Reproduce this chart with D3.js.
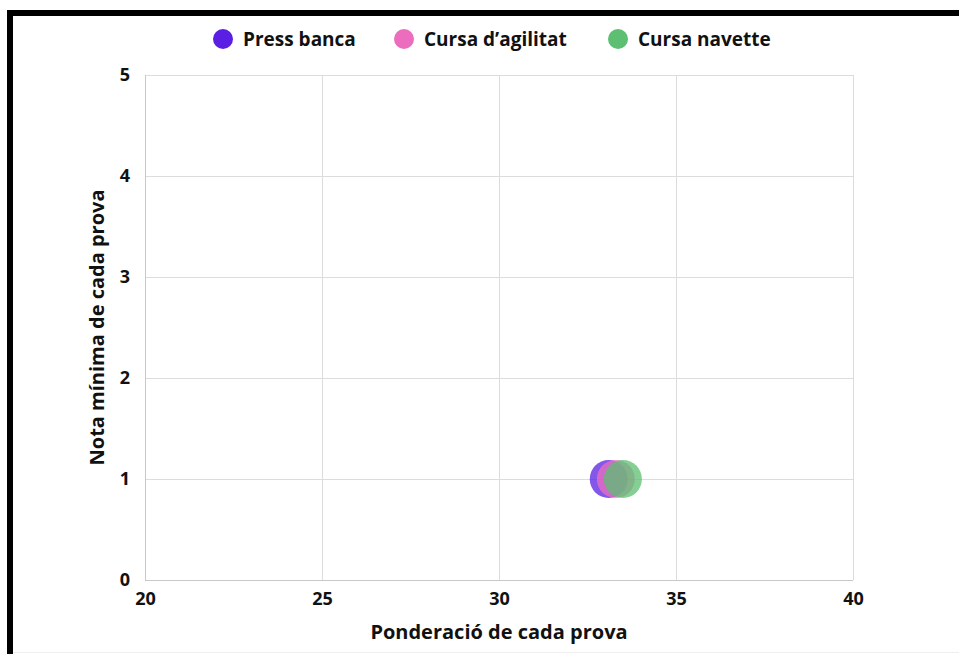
<!DOCTYPE html>
<html>
<head>
<meta charset="utf-8">
<script src="https://cdn.jsdelivr.net/npm/d3@7"></script>
<style>
  body { margin: 0; background: #fff; }
  text { font-family: "Open Sans", "Noto Sans", sans-serif; font-weight: 700; fill: #111; }
</style>
</head>
<body>
<div id="chart"></div>
<script>
// Data
var series = ["Press banca", "Cursa d\u2019agilitat", "Cursa navette"];
var ponderacio = [33.1, 33.3, 33.5];
var notaMinima = [1, 1, 1];
var colors = ["#5a1fe3", "#ec6dbe", "#5cbf72"];
var xTicks = [20, 25, 30, 35, 40];
var yTicks = [0, 1, 2, 3, 4, 5];

var svgWidth = 959;
var svgHeight = 654;

var margin = { top: 75, right: 106, bottom: 74, left: 145 };
var chartWidth = svgWidth - margin.left - margin.right;
var chartHeight = svgHeight - margin.top - margin.bottom;

var svg = d3.select("#chart")
  .append("svg")
  .attr("width", svgWidth)
  .attr("height", svgHeight);

// frame
svg.append("rect").attr("x", 7).attr("y", 10).attr("width", svgWidth - 7).attr("height", 6).attr("fill", "#000");
svg.append("rect").attr("x", 7).attr("y", 10).attr("width", 6).attr("height", svgHeight - 10).attr("fill", "#000");
svg.append("line").attr("x1", 13).attr("x2", svgWidth).attr("y1", 652.5).attr("y2", 652.5)
  .attr("stroke", "#eee");

var chartGroup = svg.append("g")
  .attr("transform", `translate(${margin.left}, ${margin.top})`);

var xScale = d3.scaleLinear().domain([20, 40]).range([0, chartWidth]);
var yScale = d3.scaleLinear().domain([0, 5]).range([chartHeight, 0]);

// grid
chartGroup.selectAll(".xgrid")
  .data(xTicks)
  .enter()
  .append("line")
  .attr("x1", d => Math.round(xScale(d)) + 0.5)
  .attr("x2", d => Math.round(xScale(d)) + 0.5)
  .attr("y1", 0)
  .attr("y2", chartHeight)
  .attr("stroke", "#dcdcdc");

chartGroup.selectAll(".ygrid")
  .data(yTicks)
  .enter()
  .append("line")
  .attr("x1", 0)
  .attr("x2", chartWidth)
  .attr("y1", d => Math.round(yScale(d)) + 0.5)
  .attr("y2", d => Math.round(yScale(d)) + 0.5)
  .attr("stroke", "#dcdcdc");

// axis lines
chartGroup.append("line").attr("x1", 0.5).attr("x2", 0.5).attr("y1", 0).attr("y2", chartHeight).attr("stroke", "#c8c8c8");
chartGroup.append("line").attr("x1", 0).attr("x2", chartWidth).attr("y1", chartHeight + 0.5).attr("y2", chartHeight + 0.5).attr("stroke", "#c8c8c8");

// axes (tick labels only)
var bottomAxis = d3.axisBottom(xScale).tickValues(xTicks).tickFormat(d3.format("d")).tickSize(0).tickPadding(12);
var leftAxis = d3.axisLeft(yScale).tickValues(yTicks).tickFormat(d3.format("d")).tickSize(0).tickPadding(15);

var xAxis = chartGroup.append("g")
  .attr("transform", `translate(0, ${chartHeight})`)
  .call(bottomAxis);
var yAxis = chartGroup.append("g").call(leftAxis);

[xAxis, yAxis].forEach(function(a) {
  a.select(".domain").remove();
  a.selectAll("text")
    .style("font-family", "'Open Sans', 'Noto Sans', sans-serif")
    .style("font-weight", 700)
    .style("font-size", "18px")
    .attr("fill", "#111");
});

// points
var points = series.map((s, i) => ({ name: s, x: ponderacio[i], y: notaMinima[i], color: colors[i] }));

chartGroup.selectAll("circle.pt")
  .data(points)
  .enter()
  .append("circle")
  .attr("class", "pt")
  .attr("cx", d => xScale(d.x))
  .attr("cy", d => yScale(d.y))
  .attr("r", 19)
  .attr("fill", d => d.color)
  .attr("fill-opacity", 0.75);

// axis titles
chartGroup.append("text")
  .attr("x", chartWidth / 2)
  .attr("y", chartHeight + 59)
  .attr("text-anchor", "middle")
  .style("font-size", "20px")
  .text("Ponderaci\u00f3 de cada prova");

chartGroup.append("text")
  .attr("transform", `translate(-41, ${chartHeight / 2}) rotate(-90)`)
  .attr("text-anchor", "middle")
  .style("font-size", "20px")
  .text("Nota m\u00ednima de cada prova");

// legend
var legendX = [223, 404, 618];
var legend = svg.selectAll(".legend")
  .data(points)
  .enter()
  .append("g")
  .attr("transform", (d, i) => `translate(${legendX[i]}, 39)`);

legend.append("circle").attr("r", 10).attr("fill", d => d.color);
legend.append("text")
  .attr("x", 20)
  .attr("dy", "0.35em")
  .style("font-size", "19px")
  .text(d => d.name);
</script>
</body>
</html>
